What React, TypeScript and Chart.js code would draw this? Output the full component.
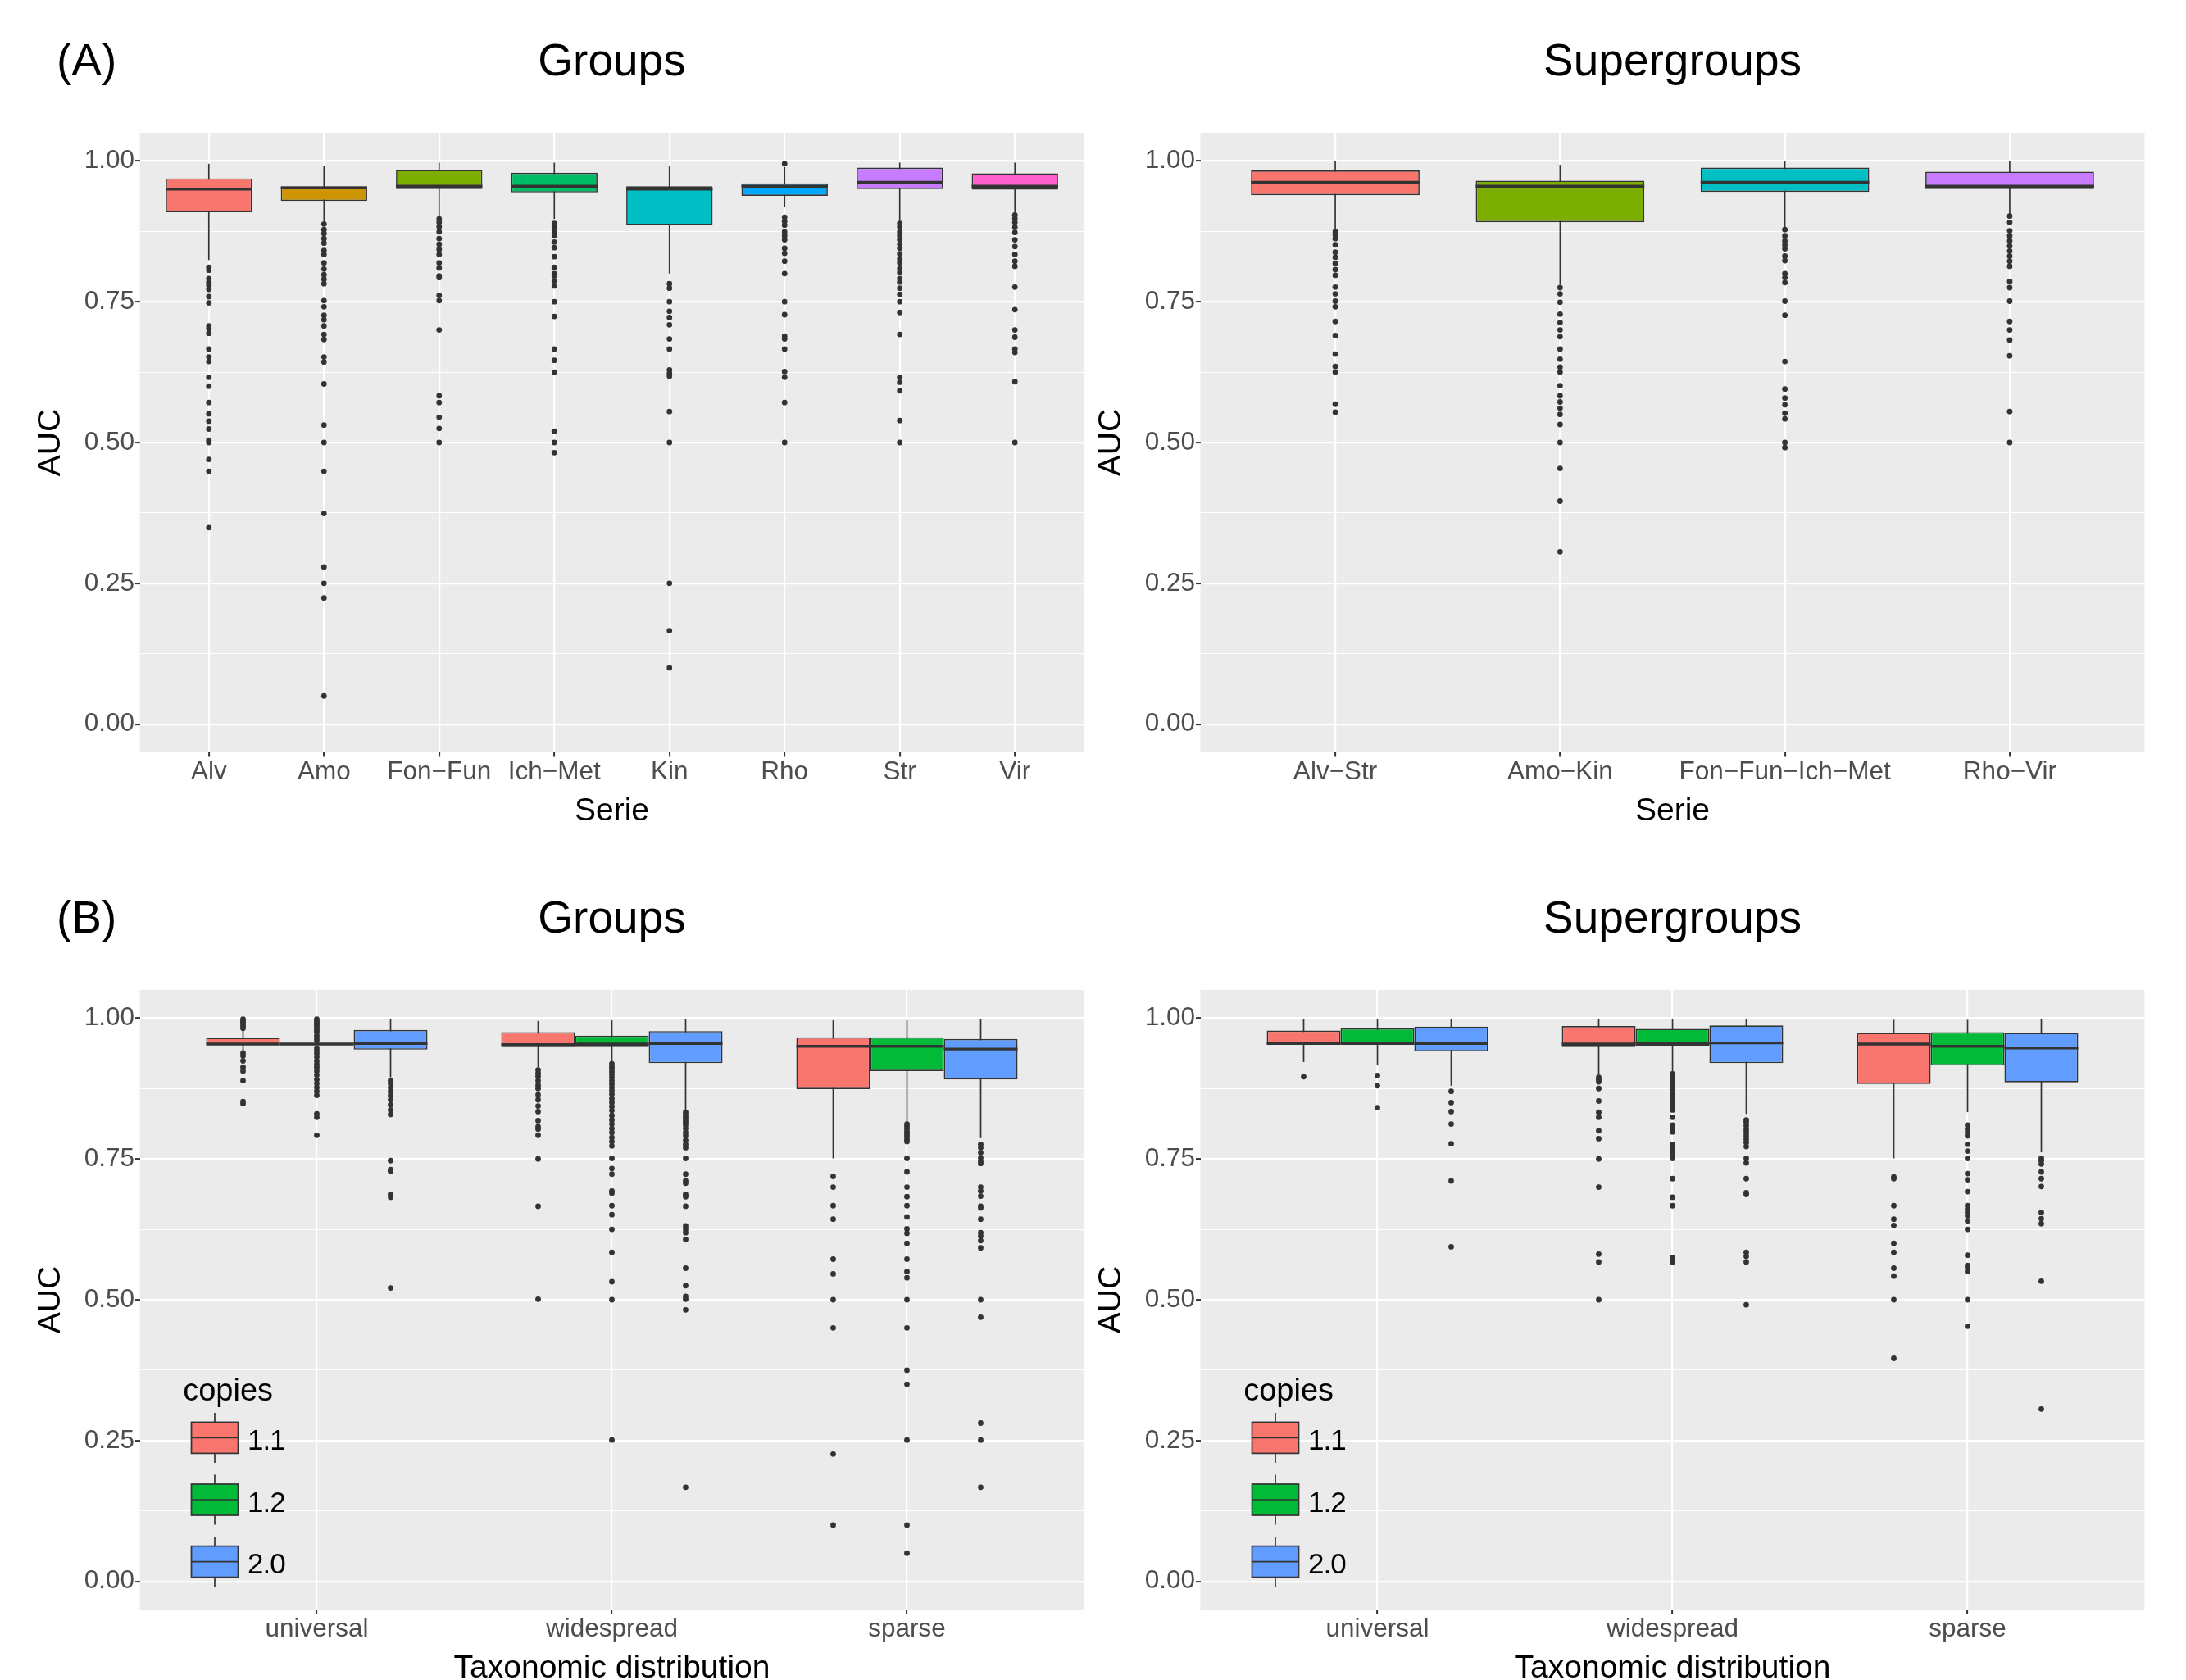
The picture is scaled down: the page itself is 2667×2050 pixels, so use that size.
import React, { useEffect, useRef } from 'react';
import { Chart, registerables } from 'chart.js';

Chart.register(...registerables);
Chart.defaults.font.family = "'Liberation Sans', Arial, Helvetica, sans-serif";

// ---------------- DATA ----------------
const yTickValues = [0, 0.125, 0.25, 0.375, 0.5, 0.625, 0.75, 0.875, 1.0];

// (A) Groups
const groupCats = ['Alv', 'Amo', 'Fon\u2212Fun', 'Ich\u2212Met', 'Kin', 'Rho', 'Str', 'Vir'];
const groupColors = ['#F8766D', '#CD9600', '#7CAE00', '#00BE67', '#00BFC4', '#00A9FF', '#C77CFF', '#FF61CC'];
const groupLow = [0.824, 0.893, 0.9, 0.897, 0.8, 0.918, 0.893, 0.908];
const groupQ1 = [0.909, 0.929, 0.95, 0.944, 0.886, 0.938, 0.95, 0.949];
const groupMed = [0.95, 0.952, 0.955, 0.955, 0.95, 0.955, 0.962, 0.955];
const groupQ3 = [0.969, 0.955, 0.984, 0.979, 0.955, 0.96, 0.988, 0.978];
const groupHigh = [0.995, 0.991, 0.997, 0.997, 0.991, 0.989, 0.997, 0.997];
const groupOutAlv = [0.811, 0.806, 0.791, 0.785, 0.779, 0.772, 0.759, 0.748, 0.707, 0.702, 0.694, 0.666, 0.652, 0.644, 0.616, 0.6, 0.571, 0.551, 0.538, 0.524, 0.504, 0.5, 0.47, 0.449, 0.349];
const groupOutAmo = [0.888, 0.878, 0.871, 0.862, 0.854, 0.841, 0.834, 0.819, 0.808, 0.798, 0.79, 0.782, 0.752, 0.741, 0.726, 0.718, 0.707, 0.692, 0.683, 0.652, 0.643, 0.604, 0.531, 0.5, 0.449, 0.374, 0.279, 0.25, 0.224, 0.05];
const groupOutFonFun = [0.897, 0.891, 0.883, 0.874, 0.862, 0.852, 0.843, 0.834, 0.819, 0.81, 0.796, 0.793, 0.761, 0.752, 0.7, 0.583, 0.571, 0.545, 0.525, 0.5];
const groupOutIchMet = [0.889, 0.883, 0.874, 0.867, 0.856, 0.846, 0.83, 0.811, 0.8, 0.796, 0.787, 0.778, 0.75, 0.724, 0.666, 0.646, 0.625, 0.52, 0.5, 0.482];
const groupOutKin = [0.782, 0.774, 0.75, 0.733, 0.722, 0.709, 0.684, 0.666, 0.629, 0.623, 0.618, 0.555, 0.5, 0.25, 0.166, 0.1];
const groupOutRho = [0.995, 0.9, 0.893, 0.886, 0.874, 0.867, 0.86, 0.845, 0.836, 0.822, 0.8, 0.75, 0.727, 0.689, 0.684, 0.666, 0.626, 0.616, 0.571, 0.5];
const groupOutStr = [0.889, 0.883, 0.874, 0.867, 0.86, 0.852, 0.845, 0.835, 0.826, 0.819, 0.809, 0.802, 0.791, 0.785, 0.774, 0.763, 0.75, 0.731, 0.692, 0.616, 0.607, 0.592, 0.539, 0.5];
const groupOutVir = [0.904, 0.898, 0.891, 0.882, 0.873, 0.86, 0.848, 0.834, 0.822, 0.813, 0.776, 0.736, 0.7, 0.687, 0.666, 0.66, 0.608, 0.5];

// (A) Supergroups
const superCats = ['Alv\u2212Str', 'Amo\u2212Kin', 'Fon\u2212Fun\u2212Ich\u2212Met', 'Rho\u2212Vir'];
const superColors = ['#F8766D', '#7CAE00', '#00BFC4', '#C77CFF'];
const superLow = [0.878, 0.78, 0.881, 0.905];
const superQ1 = [0.939, 0.891, 0.945, 0.95];
const superMed = [0.962, 0.955, 0.962, 0.955];
const superQ3 = [0.983, 0.965, 0.988, 0.981];
const superHigh = [0.999, 0.993, 0.999, 0.999];
const superOutAlvStr = [0.874, 0.869, 0.862, 0.851, 0.838, 0.829, 0.818, 0.807, 0.797, 0.776, 0.764, 0.751, 0.741, 0.715, 0.69, 0.657, 0.635, 0.625, 0.568, 0.554];
const superOutAmoKin = [0.775, 0.764, 0.749, 0.728, 0.713, 0.7, 0.688, 0.666, 0.648, 0.634, 0.625, 0.601, 0.583, 0.572, 0.561, 0.55, 0.532, 0.5, 0.454, 0.396, 0.306];
const superOutFFIM = [0.878, 0.867, 0.858, 0.851, 0.844, 0.831, 0.823, 0.8, 0.793, 0.784, 0.751, 0.726, 0.644, 0.595, 0.579, 0.567, 0.552, 0.542, 0.5, 0.491];
const superOutRhoVir = [0.902, 0.891, 0.876, 0.867, 0.858, 0.849, 0.84, 0.831, 0.822, 0.813, 0.786, 0.775, 0.751, 0.715, 0.7, 0.682, 0.654, 0.555, 0.5];

// (B) Taxonomic distribution x copies
const distCats = ['universal', 'widespread', 'sparse'];
const copiesLabels = ['1.1', '1.2', '2.0'];
const copiesColors = ['#F8766D', '#00BA38', '#619CFF'];

// (B) Groups
const bgLow11 = [0.94, 0.913, 0.751];
const bgQ1_11 = [0.953, 0.95, 0.874];
const bgMed11 = [0.954, 0.953, 0.95];
const bgQ3_11 = [0.965, 0.975, 0.966];
const bgHigh11 = [0.978, 0.995, 0.996];
const bgLow12 = [0.954, 0.923, 0.816];
const bgQ1_12 = [0.954, 0.95, 0.906];
const bgMed12 = [0.954, 0.954, 0.95];
const bgQ3_12 = [0.954, 0.969, 0.966];
const bgHigh12 = [0.954, 0.996, 0.996];
const bgLow20 = [0.895, 0.837, 0.787];
const bgQ1_20 = [0.944, 0.92, 0.891];
const bgMed20 = [0.955, 0.955, 0.945];
const bgQ3_20 = [0.979, 0.977, 0.963];
const bgHigh20 = [0.998, 0.999, 0.999];
const bgOut11Universal = [0.998, 0.995, 0.992, 0.989, 0.985, 0.982, 0.938, 0.933, 0.924, 0.913, 0.906, 0.889, 0.852, 0.848];
const bgOut11Widespread = [0.908, 0.902, 0.897, 0.889, 0.881, 0.875, 0.864, 0.855, 0.844, 0.834, 0.818, 0.807, 0.803, 0.792, 0.75, 0.666, 0.501];
const bgOut11Sparse = [0.719, 0.7, 0.667, 0.643, 0.572, 0.546, 0.5, 0.45, 0.226, 0.1];
const bgOut12Universal = [0.998, 0.995, 0.992, 0.989, 0.986, 0.982, 0.978, 0.975, 0.969, 0.964, 0.96, 0.947, 0.942, 0.937, 0.931, 0.924, 0.918, 0.913, 0.906, 0.899, 0.891, 0.884, 0.877, 0.87, 0.863, 0.83, 0.824, 0.792];
const bgOut12Widespread = [0.919, 0.914, 0.91, 0.905, 0.9, 0.895, 0.889, 0.883, 0.877, 0.871, 0.865, 0.857, 0.85, 0.843, 0.836, 0.827, 0.819, 0.812, 0.804, 0.797, 0.788, 0.781, 0.773, 0.751, 0.733, 0.723, 0.693, 0.689, 0.667, 0.651, 0.625, 0.584, 0.532, 0.5, 0.251];
const bgOut12Sparse = [0.812, 0.808, 0.803, 0.798, 0.794, 0.79, 0.785, 0.781, 0.751, 0.727, 0.7, 0.683, 0.667, 0.647, 0.626, 0.618, 0.6, 0.572, 0.55, 0.539, 0.5, 0.45, 0.375, 0.35, 0.251, 0.1, 0.05];
const bgOut20Universal = [0.889, 0.884, 0.877, 0.87, 0.863, 0.855, 0.846, 0.837, 0.829, 0.747, 0.731, 0.728, 0.687, 0.682, 0.521];
const bgOut20Widespread = [0.833, 0.828, 0.824, 0.819, 0.815, 0.81, 0.804, 0.797, 0.791, 0.783, 0.776, 0.77, 0.751, 0.723, 0.711, 0.707, 0.687, 0.683, 0.666, 0.631, 0.625, 0.619, 0.607, 0.556, 0.525, 0.506, 0.501, 0.482, 0.167];
const bgOut20Sparse = [0.776, 0.77, 0.761, 0.752, 0.746, 0.742, 0.7, 0.693, 0.684, 0.666, 0.663, 0.643, 0.619, 0.613, 0.605, 0.592, 0.5, 0.469, 0.281, 0.251, 0.167];

// (B) Supergroups
const bsLow11 = [0.922, 0.898, 0.751];
const bsQ1_11 = [0.954, 0.95, 0.883];
const bsMed11 = [0.955, 0.954, 0.954];
const bsQ3_11 = [0.978, 0.986, 0.974];
const bsHigh11 = [0.998, 0.998, 0.997];
const bsLow12 = [0.916, 0.905, 0.833];
const bsQ1_12 = [0.955, 0.951, 0.916];
const bsMed12 = [0.955, 0.955, 0.95];
const bsQ3_12 = [0.982, 0.981, 0.975];
const bsHigh12 = [0.998, 0.998, 0.997];
const bsLow20 = [0.88, 0.83, 0.762];
const bsQ1_20 = [0.941, 0.92, 0.886];
const bsMed20 = [0.955, 0.956, 0.947];
const bsQ3_20 = [0.985, 0.987, 0.974];
const bsHigh20 = [0.999, 0.999, 0.998];
const bsOut11Universal = [0.896];
const bsOut11Widespread = [0.895, 0.891, 0.887, 0.875, 0.853, 0.833, 0.824, 0.8, 0.786, 0.75, 0.7, 0.581, 0.567, 0.5];
const bsOut11Sparse = [0.718, 0.715, 0.667, 0.643, 0.632, 0.6, 0.584, 0.556, 0.542, 0.5, 0.396];
const bsOut12Universal = [0.898, 0.88, 0.841];
const bsOut12Widespread = [0.901, 0.895, 0.889, 0.885, 0.877, 0.871, 0.865, 0.858, 0.852, 0.844, 0.837, 0.824, 0.81, 0.803, 0.798, 0.776, 0.77, 0.764, 0.758, 0.751, 0.715, 0.682, 0.667, 0.575, 0.567];
const bsOut12Sparse = [0.81, 0.803, 0.797, 0.791, 0.776, 0.764, 0.751, 0.724, 0.713, 0.692, 0.667, 0.661, 0.655, 0.649, 0.64, 0.625, 0.579, 0.561, 0.557, 0.55, 0.5, 0.453];
const bsOut20Universal = [0.87, 0.85, 0.834, 0.812, 0.777, 0.711, 0.594];
const bsOut20Widespread = [0.819, 0.815, 0.809, 0.802, 0.797, 0.791, 0.785, 0.779, 0.772, 0.751, 0.743, 0.715, 0.69, 0.687, 0.584, 0.577, 0.567, 0.491];
const bsOut20Sparse = [0.751, 0.747, 0.741, 0.727, 0.715, 0.701, 0.655, 0.644, 0.635, 0.533, 0.306];

// ---------------- CHART BUILDING ----------------
type Series = {
  label: string;
  colors: string[];
  low: number[];
  q1: number[];
  med: number[];
  q3: number[];
  high: number[];
  out: number[][];
};

type PanelSpec = {
  title: string;
  tag: string;
  cats: string[];
  xTitle: string;
  series: Series[];
  legendTitle?: string;
};

const FAMILY = "'Liberation Sans', Arial, Helvetica, sans-serif";
const CANVAS_W = 1493;
const CANVAS_H = 1030;
const Y_AXIS_W = 170.5;
const X_AXIS_H = 112;
const TOP_PAD = 162;
const INK = '#333333';
const isMajor = (v: number) => Math.abs(v * 4 - Math.round(v * 4)) < 1e-6;

function makeConfig(spec: PanelSpec): any {
  const n = spec.series.length;
  const CAT_PCT = 0.75;
  const datasets: any[] = [];
  spec.series.forEach((s) => {
    datasets.push({
      type: 'bar',
      label: s.label,
      data: spec.cats.map((_, i) => ({ x: i + 1, y: [s.q1[i], s.q3[i]] })),
      backgroundColor: s.colors,
      borderColor: INK,
      borderWidth: 1.7,
      borderSkipped: false,
      categoryPercentage: CAT_PCT,
      barPercentage: 1,
      grouped: true,
      order: 2,
      boxStats: { low: s.low, med: s.med, high: s.high },
    });
  });
  spec.series.forEach((s, g) => {
    const shift = (g - (n - 1) / 2) * (CAT_PCT / n);
    const pts: { x: number; y: number }[] = [];
    s.out.forEach((vals, i) => vals.forEach((v) => pts.push({ x: i + 1 + shift, y: v })));
    datasets.push({
      type: 'scatter',
      label: s.label + ' outliers',
      data: pts,
      backgroundColor: INK,
      borderWidth: 0,
      pointRadius: 3.4,
      pointHoverRadius: 3.4,
      order: 1,
    });
  });

  const decor = {
    id: 'boxDecor',
    beforeDraw(chart: any) {
      const { ctx, chartArea: a } = chart;
      ctx.save();
      ctx.fillStyle = '#EBEBEB';
      ctx.fillRect(a.left, a.top, a.right - a.left, a.bottom - a.top);
      ctx.restore();
    },
    beforeDatasetsDraw(chart: any) {
      const { ctx } = chart;
      const ys = chart.scales.y;
      ctx.save();
      ctx.strokeStyle = INK;
      ctx.lineWidth = 1.7;
      chart.data.datasets.forEach((ds: any, di: number) => {
        if (!ds.boxStats) return;
        const meta = chart.getDatasetMeta(di);
        meta.data.forEach((el: any, i: number) => {
          ctx.beginPath();
          ctx.moveTo(el.x, ys.getPixelForValue(ds.boxStats.low[i]));
          ctx.lineTo(el.x, ys.getPixelForValue(ds.boxStats.high[i]));
          ctx.stroke();
        });
      });
      ctx.restore();
    },
    afterDatasetsDraw(chart: any) {
      const { ctx } = chart;
      const ys = chart.scales.y;
      ctx.save();
      ctx.strokeStyle = INK;
      ctx.lineWidth = 3.4;
      chart.data.datasets.forEach((ds: any, di: number) => {
        if (!ds.boxStats) return;
        const meta = chart.getDatasetMeta(di);
        meta.data.forEach((el: any, i: number) => {
          const y = ys.getPixelForValue(ds.boxStats.med[i]);
          ctx.beginPath();
          ctx.moveTo(el.x - el.width / 2, y);
          ctx.lineTo(el.x + el.width / 2, y);
          ctx.stroke();
        });
      });
      ctx.restore();
    },
    afterDraw(chart: any) {
      const { ctx, chartArea: a } = chart;
      ctx.save();
      ctx.fillStyle = '#000000';
      ctx.font = `55px ${FAMILY}`;
      ctx.textBaseline = 'middle';
      ctx.textAlign = 'center';
      ctx.fillText(spec.title, (a.left + a.right) / 2, 77);
      ctx.textAlign = 'left';
      if (spec.tag) ctx.fillText(spec.tag, 69, 77);
      if (spec.legendTitle) {
        ctx.font = `38px ${FAMILY}`;
        ctx.textBaseline = 'alphabetic';
        ctx.fillText(spec.legendTitle, a.left + 52.7, a.bottom - 255.1);
        spec.series.forEach((s, g) => {
          const top = a.bottom - 228.6 + g * 75.6;
          const h = 38;
          const x0 = a.left + 63;
          const w = 57;
          const cx = x0 + w / 2;
          ctx.strokeStyle = INK;
          ctx.lineWidth = 1.7;
          ctx.beginPath();
          ctx.moveTo(cx, top - 11.5);
          ctx.lineTo(cx, top + h + 11.5);
          ctx.stroke();
          ctx.fillStyle = s.colors[0];
          ctx.fillRect(x0, top, w, h);
          ctx.strokeRect(x0, top, w, h);
          ctx.beginPath();
          ctx.moveTo(x0, top + h / 2);
          ctx.lineTo(x0 + w, top + h / 2);
          ctx.stroke();
          ctx.fillStyle = '#000000';
          ctx.font = `35px ${FAMILY}`;
          try { (ctx as any).letterSpacing = '-1px'; } catch (e) { /* ignore */ }
          ctx.fillText(s.label, a.left + 131.5, top + 33.6);
          try { (ctx as any).letterSpacing = '0px'; } catch (e) { /* ignore */ }
        });
      }
      ctx.restore();
    },
  };

  return {
    type: 'bar',
    data: { datasets },
    plugins: [decor],
    options: {
      responsive: false,
      animation: false,
      devicePixelRatio: 1,
      events: [],
      layout: { padding: { left: 0, right: Y_AXIS_W, top: TOP_PAD, bottom: 0 } },
      plugins: {
        legend: { display: false },
        tooltip: { enabled: false },
        title: { display: false },
      },
      scales: {
        x: {
          type: 'linear',
          min: 0.4,
          max: spec.cats.length + 0.6,
          offset: false,
          afterBuildTicks: (s: any) => {
            s.ticks = spec.cats.map((_, i) => ({ value: i + 1 }));
          },
          afterFit: (s: any) => {
            s.height = X_AXIS_H;
          },
          ticks: {
            callback: (v: number) => spec.cats[Math.round(v) - 1] ?? '',
            font: { size: 31.5 },
            color: '#4D4D4D',
            padding: 0,
            autoSkip: false,
            maxRotation: 0,
            minRotation: 0,
          },
          grid: { offset: false, color: '#FFFFFF', lineWidth: 2.2, tickColor: INK, tickLength: 5.5, tickWidth: 2 },
          border: { display: false },
          title: {
            display: true,
            text: spec.xTitle,
            color: '#000000',
            font: { size: 39 },
            padding: { top: 0, bottom: 16.5 },
          },
        },
        y: {
          type: 'linear',
          min: -0.05,
          max: 1.05,
          afterBuildTicks: (s: any) => {
            s.ticks = yTickValues.map((v) => ({ value: v }));
          },
          afterFit: (s: any) => {
            s.width = Y_AXIS_W;
          },
          ticks: {
            callback: (v: number) => (isMajor(v) ? v.toFixed(2) : ''),
            font: { size: 31.5 },
            color: '#4D4D4D',
            padding: 1,
            autoSkip: false,
          },
          grid: {
            color: '#FFFFFF',
            lineWidth: (c: any) => (c.tick && isMajor(c.tick.value) ? 2.2 : 1.1),
            tickColor: (c: any) => (c.tick && isMajor(c.tick.value) ? INK : 'rgba(0,0,0,0)'),
            tickLength: 5.5,
            tickWidth: 2,
          },
          border: { display: false },
          title: {
            display: true,
            text: 'AUC',
            color: '#000000',
            font: { size: 39 },
            padding: { top: 39, bottom: 0 },
          },
        },
      },
    },
  };
}

const panelA1: PanelSpec = {
  title: 'Groups',
  tag: '(A)',
  cats: groupCats,
  xTitle: 'Serie',
  series: [
    {
      label: 'Groups',
      colors: groupColors,
      low: groupLow,
      q1: groupQ1,
      med: groupMed,
      q3: groupQ3,
      high: groupHigh,
      out: [groupOutAlv, groupOutAmo, groupOutFonFun, groupOutIchMet, groupOutKin, groupOutRho, groupOutStr, groupOutVir],
    },
  ],
};

const panelA2: PanelSpec = {
  title: 'Supergroups',
  tag: '',
  cats: superCats,
  xTitle: 'Serie',
  series: [
    {
      label: 'Supergroups',
      colors: superColors,
      low: superLow,
      q1: superQ1,
      med: superMed,
      q3: superQ3,
      high: superHigh,
      out: [superOutAlvStr, superOutAmoKin, superOutFFIM, superOutRhoVir],
    },
  ],
};

const panelB1: PanelSpec = {
  title: 'Groups',
  tag: '(B)',
  cats: distCats,
  xTitle: 'Taxonomic distribution',
  legendTitle: 'copies',
  series: [
    { label: copiesLabels[0], colors: [copiesColors[0]], low: bgLow11, q1: bgQ1_11, med: bgMed11, q3: bgQ3_11, high: bgHigh11, out: [bgOut11Universal, bgOut11Widespread, bgOut11Sparse] },
    { label: copiesLabels[1], colors: [copiesColors[1]], low: bgLow12, q1: bgQ1_12, med: bgMed12, q3: bgQ3_12, high: bgHigh12, out: [bgOut12Universal, bgOut12Widespread, bgOut12Sparse] },
    { label: copiesLabels[2], colors: [copiesColors[2]], low: bgLow20, q1: bgQ1_20, med: bgMed20, q3: bgQ3_20, high: bgHigh20, out: [bgOut20Universal, bgOut20Widespread, bgOut20Sparse] },
  ],
};

const panelB2: PanelSpec = {
  title: 'Supergroups',
  tag: '',
  cats: distCats,
  xTitle: 'Taxonomic distribution',
  legendTitle: 'copies',
  series: [
    { label: copiesLabels[0], colors: [copiesColors[0]], low: bsLow11, q1: bsQ1_11, med: bsMed11, q3: bsQ3_11, high: bsHigh11, out: [bsOut11Universal, bsOut11Widespread, bsOut11Sparse] },
    { label: copiesLabels[1], colors: [copiesColors[1]], low: bsLow12, q1: bsQ1_12, med: bsMed12, q3: bsQ3_12, high: bsHigh12, out: [bsOut12Universal, bsOut12Widespread, bsOut12Sparse] },
    { label: copiesLabels[2], colors: [copiesColors[2]], low: bsLow20, q1: bsQ1_20, med: bsMed20, q3: bsQ3_20, high: bsHigh20, out: [bsOut20Universal, bsOut20Widespread, bsOut20Sparse] },
  ],
};

function Panel({ spec, left, top }: { spec: PanelSpec; left: number; top: number }) {
  const ref = useRef<HTMLCanvasElement>(null);
  useEffect(() => {
    if (!ref.current) return;
    const chart = new Chart(ref.current, makeConfig(spec));
    return () => chart.destroy();
  }, [spec]);
  return (
    <canvas
      ref={ref}
      width={CANVAS_W}
      height={CANVAS_H}
      style={{ position: 'absolute', left, top, width: CANVAS_W, height: CANVAS_H }}
    />
  );
}

export default function App() {
  return (
    <div
      style={{
        position: 'absolute',
        left: 0,
        top: 0,
        width: 2667,
        height: 2050,
        overflow: 'hidden',
        background: '#FFFFFF',
      }}
    >
      <Panel spec={panelA1} left={0} top={0} />
      <Panel spec={panelA2} left={1293.5} top={0} />
      <Panel spec={panelB1} left={0} top={1046.4} />
      <Panel spec={panelB2} left={1293.5} top={1046.4} />
    </div>
  );
}
